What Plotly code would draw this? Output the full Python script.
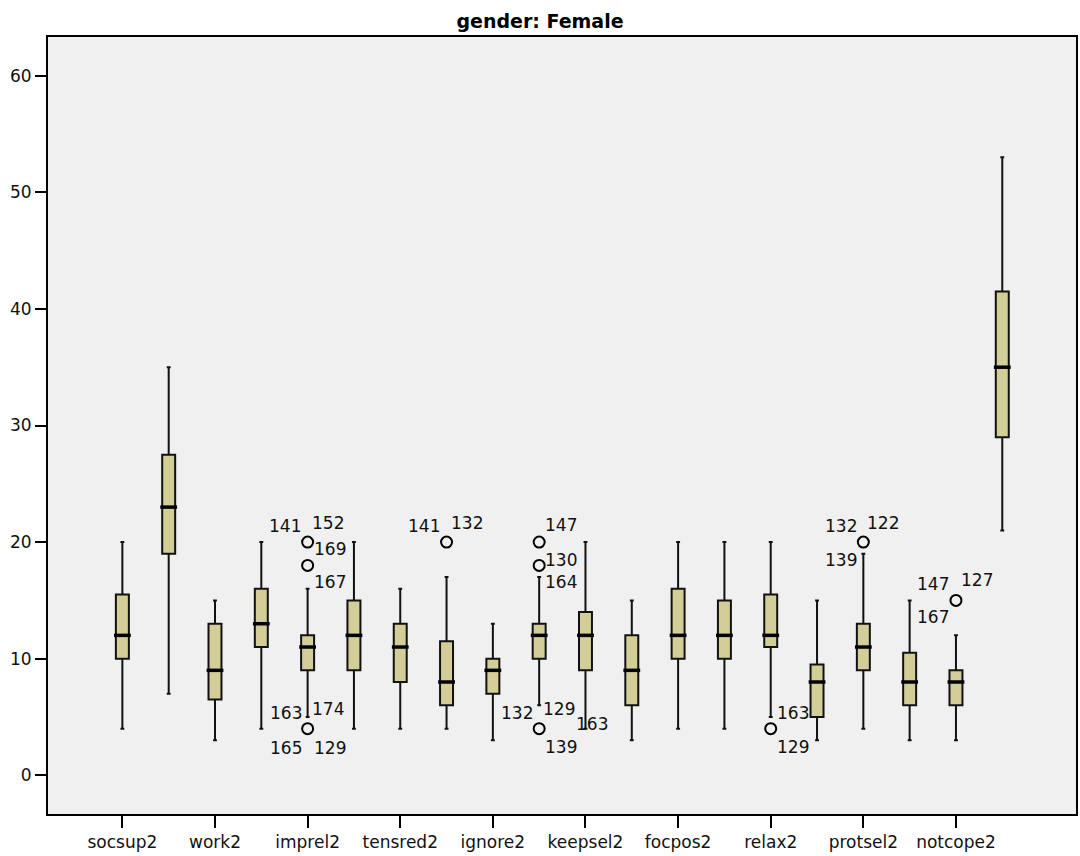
import plotly.graph_objects as go

# ---- data ----
labels = ["socsup2", "work2", "imprel2", "tensred2", "ignore2",
          "keepsel2", "focpos2", "relax2", "protsel2", "notcope2"]
positions = list(range(1, 21))
labeled_positions = [1, 3, 5, 7, 9, 11, 13, 15, 17, 19]

lower = [4, 7, 3, 4, 5, 4, 4, 4, 3, 6, 4, 3, 4, 4, 5, 3, 4, 3, 3, 21]
q1 = [10, 19, 6.5, 11, 9, 9, 8, 6, 7, 10, 9, 6, 10, 10, 11, 5, 9, 6, 6, 29]
median = [12, 23, 9, 13, 11, 12, 11, 8, 9, 12, 12, 9, 12, 12, 12, 8, 11, 8, 8, 35]
q3 = [15.5, 27.5, 13, 16, 12, 15, 13, 11.5, 10, 13, 14, 12, 16, 15, 15.5, 9.5, 13, 10.5, 9, 41.5]
upper = [20, 35, 15, 20, 16, 20, 16, 17, 13, 17, 20, 15, 20, 20, 20, 15, 19, 15, 12, 53]

outlier_pos = [5, 5, 5, 8, 10, 10, 10, 15, 17, 19]
outlier_val = [20, 18, 4, 20, 20, 18, 4, 4, 20, 15]

# case labels: (outlier index, case id)
case_outlier = [0, 0, 0, 1, 2, 2, 2, 2,
                3, 3,
                4, 5, 5, 6, 6, 6, 6,
                7, 7,
                8, 8, 8,
                9, 9, 9]
case_ids = ["141", "152", "169", "167", "163", "174", "165", "129",
            "141", "132",
            "147", "130", "164", "132", "129", "139", "163",
            "163", "129",
            "132", "122", "139",
            "147", "127", "167"]

# ---- styles ----
case_shift = [(-23, 16), (20, 19), (22, -7), (22, -17), (-22, 16), (20, 20), (-22, -19), (22, -19),
              (-23, 16), (20, 19),
              (22, 17), (22, 5), (22, -17), (-22, 16), (20, 20), (22, -18), (53, 5),
              (22, 16), (22, -18),
              (-22, 16), (20, 19), (-22, -18),
              (-23, 16), (21, 20), (-23, -17)]

FONT = "DejaVu Sans"
BOX_FILL = "#D3CE97"

fig = go.Figure()

fig.add_trace(go.Box(
    x=positions, q1=q1, median=median, q3=q3,
    lowerfence=lower, upperfence=upper,
    width=0.28, whiskerwidth=0.3,
    fillcolor=BOX_FILL,
    line=dict(color="#111111", width=2),
    boxpoints=False, hoverinfo="skip", showlegend=False,
))

# thick median bars
fig.add_trace(go.Scatter(
    x=positions, y=median, mode="markers",
    marker=dict(symbol="line-ew", size=12, color="black",
                line=dict(color="black", width=3.5)),
    hoverinfo="skip", showlegend=False,
))

# outliers
fig.add_trace(go.Scatter(
    x=outlier_pos, y=outlier_val, mode="markers",
    marker=dict(symbol="circle-open", size=11, color="black",
                line=dict(color="black", width=2)),
    hoverinfo="skip", showlegend=False,
))

for oi, cid, (dx, dy) in zip(case_outlier, case_ids, case_shift):
    fig.add_annotation(
        x=outlier_pos[oi], y=outlier_val[oi], xref="x", yref="y",
        text=cid, showarrow=False, xshift=dx, yshift=dy,
        font=dict(family=FONT, size=17, color="#111111"),
    )

fig.update_layout(
    width=1080, height=856, autosize=False,
    margin=dict(l=48, r=2, t=37, b=42),
    paper_bgcolor="white", plot_bgcolor="#F0F0F0",
    title=dict(text="<b>gender: Female</b>", x=0.5, xanchor="center",
               y=1 - 21 / 856, yanchor="middle", xref="container", yref="container",
               font=dict(family=FONT, size=19, color="black")),
    font=dict(family=FONT, size=17, color="#111111"),
    xaxis=dict(range=[-0.606, 21.592], tickmode="array",
               tickvals=labeled_positions, ticktext=labels,
               ticks="outside", ticklen=12, tickwidth=2, tickcolor="black",
               showline=True, linecolor="black", linewidth=2, mirror=True,
               showgrid=False, zeroline=False,
               tickfont=dict(family=FONT, size=17, color="#111111")),
    yaxis=dict(range=[-3.32, 63.32], tickmode="array",
               tickvals=[0, 10, 20, 30, 40, 50, 60],
               ticks="outside", ticklen=11, tickwidth=2, tickcolor="black",
               showline=True, linecolor="black", linewidth=2, mirror=True,
               showgrid=False, zeroline=False,
               tickfont=dict(family=FONT, size=17, color="#111111")),
)

fig.write_html("out.html")
